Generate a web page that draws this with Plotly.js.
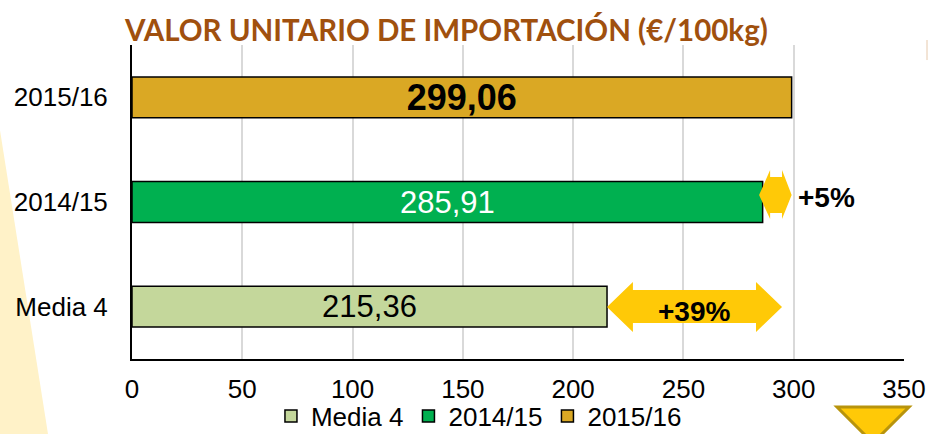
<!DOCTYPE html>
<html>
<head>
<meta charset="utf-8">
<script src="https://cdn.plot.ly/plotly-3.0.1.min.js"></script>
<style>
html,body{margin:0;padding:0;background:#fff;}
#chart{width:928px;height:434px;}
</style>
</head>
<body>
<div id="chart"></div>
<script>
// ---- data ----
var categories = ['Media 4', '2014/15', '2015/16'];
var values = [215.36, 285.91, 299.06];
var seriesColors = ['#C4D79B', '#00B050', '#DAA824'];
var labelFontSizes = [31, 31, 36];
var labelColors = ['#000000', '#FFFFFF', '#000000'];
var labelBold = [false, false, true];
var xTickVals = [0, 50, 100, 150, 200, 250, 300, 350];
var changeLabels = ['+39%', '+5%'];
var titleText = 'VALOR UNITARIO DE IMPORTACIÓN (€/100kg)';

var traces = categories.map(function (c, i) {
  return {
    type: 'bar',
    orientation: 'h',
    name: c,
    y: [c],
    x: [values[i]],
    width: 0.39,
    marker: { color: seriesColors[i], line: { color: '#000', width: 1.5 } },
    texttemplate: labelBold[i] ? '<b>%{x:.2f}</b>' : '%{x:.2f}',
    textposition: 'inside',
    insidetextanchor: 'middle',
    textangle: 0,
    constraintext: 'none',
    textfont: { family: 'Liberation Sans, Arial, sans-serif', size: labelFontSizes[i], color: labelColors[i] },
    hoverinfo: 'skip'
  };
});

// arrow path helper (x in data units, y in paper units)
function dblArrow(x0, xh0, xh1, x1, ym, yht, ybt, ybb, yhb) {
  return 'M' + x0 + ',' + ym +
    ' L' + xh0 + ',' + yht + ' L' + xh0 + ',' + ybt +
    ' L' + xh1 + ',' + ybt + ' L' + xh1 + ',' + yht +
    ' L' + x1 + ',' + ym +
    ' L' + xh1 + ',' + yhb + ' L' + xh1 + ',' + ybb +
    ' L' + xh0 + ',' + ybb + ' L' + xh0 + ',' + yhb + ' Z';
}

var arrowColor = '#FFC907';
var shapes = [
  // light yellow background wedge on the left
  { type: 'path', xref: 'paper', yref: 'paper', layer: 'below',
    path: 'M-0.171,0.729 L-0.1088,-0.2389 L-0.171,-0.2389 Z',
    fillcolor: '#FFF2C8', line: { width: 0 } },
  // arrow media -> 2015/16
  { type: 'path', xref: 'x', yref: 'paper', layer: 'above',
    path: dblArrow(values[0], 227.1, 282.9, 294.7, 0.1656, 0.2452, 0.2197, 0.1146, 0.086),
    fillcolor: arrowColor, line: { width: 0 } },
  // arrow 2014/15 -> 2015/16
  { type: 'path', xref: 'x', yref: 'paper', layer: 'above',
    path: dblArrow(284.3, 289.3, 294.7, values[2], 0.522, 0.602, 0.580, 0.465, 0.446),
    fillcolor: arrowColor, line: { width: 0 } },
  // bottom-right triangle
  { type: 'path', xref: 'paper', yref: 'paper', layer: 'above',
    path: 'M0.9132,-0.1529 L1.0065,-0.1529 L0.9598,-0.2675 Z',
    fillcolor: '#FFC907', line: { color: '#B8940C', width: 3 } },
  // small mark at top right
  { type: 'line', xref: 'paper', yref: 'paper', x0: 1.0298, x1: 1.0298, y0: 1.0159, y1: 0.952,
    line: { color: '#E6C9AC', width: 1 } }
];

var annotations = [
  { xref: 'x', yref: 'paper', x: 255, y: 0.150, text: '<b>' + changeLabels[0] + '</b>',
    showarrow: false, xanchor: 'center', yanchor: 'middle',
    font: { family: 'Liberation Sans, Arial, sans-serif', size: 28, color: '#000' } },
  { xref: 'x', yref: 'paper', x: 301, y: 0.514, text: '<b>' + changeLabels[1] + '</b>',
    showarrow: false, xanchor: 'left', yanchor: 'middle',
    font: { family: 'Liberation Sans, Arial, sans-serif', size: 28, color: '#000' } }
];

var layout = {
  width: 928, height: 434,
  margin: { l: 132, r: 24, t: 45, b: 75, pad: 0, autoexpand: false },
  paper_bgcolor: '#FFFFFF',
  plot_bgcolor: 'rgba(0,0,0,0)',
  separators: ',.',
  barmode: 'overlay',
  showlegend: true,
  font: { family: 'Liberation Sans, Arial, sans-serif', size: 26, color: '#000' },
  title: {
    text: '<b>' + titleText + '</b>',
    font: { family: 'Lato, Carlito, Calibri, sans-serif', size: 29.5, color: '#A0500E' },
    xref: 'container', x: 0.481, xanchor: 'center',
    yref: 'container', y: 0.93, yanchor: 'middle'
  },
  xaxis: {
    range: [0, 350],
    tickvals: xTickVals,
    showgrid: true, gridcolor: '#D9D9D9', gridwidth: 2,
    zeroline: false,
    showline: true, linecolor: '#000', linewidth: 2,
    ticks: 'outside', ticklen: 6, tickcolor: 'rgba(0,0,0,0)',
    tickfont: { size: 26 },
    automargin: false,
    fixedrange: true
  },
  yaxis: {
    type: 'category',
    categoryorder: 'array', categoryarray: categories,
    range: [-0.5, 2.5],
    showgrid: false, zeroline: false,
    showline: true, linecolor: '#000', linewidth: 2,
    ticks: '', ticklabelstandoff: 17,
    tickfont: { size: 26 },
    automargin: false,
    fixedrange: true
  },
  legend: {
    orientation: 'h',
    x: 0.18, xanchor: 'left',
    y: -0.107, yanchor: 'top',
    font: { size: 26 },
    bgcolor: 'rgba(0,0,0,0)',
    traceorder: 'normal'
  },
  shapes: shapes,
  annotations: annotations
};

Plotly.newPlot('chart', traces, layout, { displayModeBar: false, staticPlot: true });
</script>
</body>
</html>
